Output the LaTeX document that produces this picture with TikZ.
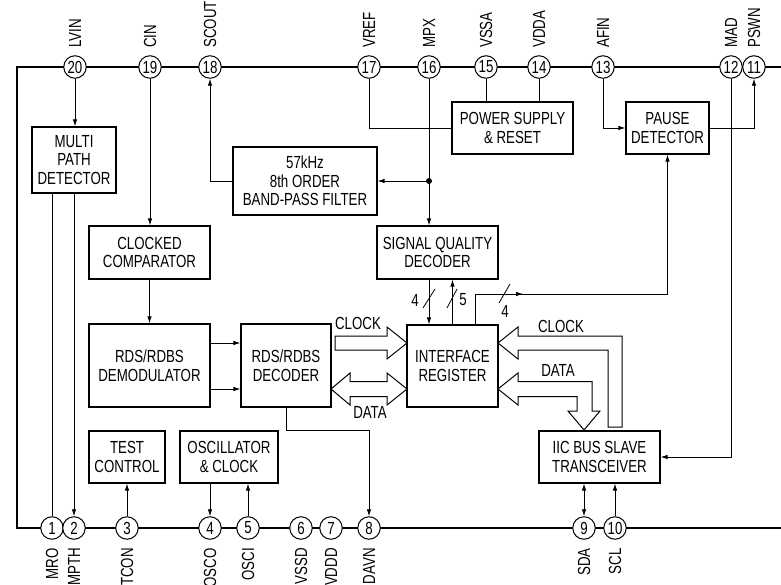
\documentclass[tikz,border=0pt]{standalone}
\usepackage{fontspec}
\setmainfont{Liberation Sans}[FakeStretch=0.76]
\usetikzlibrary{arrows.meta,calc}
\newcommand\dfont{\fontsize{17.5}{18.5}\selectfont}
\begin{document}
\begin{tikzpicture}[x=1pt,y=-1pt,
  every node/.style={font=\dfont},
  box/.style={draw, line width=1.2pt, align=center, inner sep=0pt},
  pin/.style={circle, draw, fill=white, line width=1pt, minimum size=22.5pt, inner sep=0pt},
  conn/.style={line width=0.8pt},
  arr/.style={conn, -{Latex[length=7pt,width=4.5pt]}},
  darr/.style={conn, {Latex[length=7pt,width=4.5pt]}-{Latex[length=7pt,width=4.5pt]}},
  fat/.style={draw, line width=1pt, fill=white, line join=miter},
  toplbl/.style={rotate=90, anchor=west, inner sep=0pt},
  botlbl/.style={rotate=90, anchor=east, inner sep=0pt},
  lbl/.style={inner sep=0pt}
]
\clip (0,0) rectangle (781,585);
\useasboundingbox (0,0) rectangle (781,585);

% chip outline
\draw[line width=2.4pt] (781,67) -- (17,67) -- (17,528) -- (781,528);

% boxes
\node[box, minimum width=84pt, minimum height=66pt] (mpd) at (74,160) {MULTI\\PATH\\DETECTOR};
\node[box, minimum width=144pt, minimum height=68pt] (bpf) at (305,181) {57kHz\\8th ORDER\\BAND-PASS FILTER};
\node[box, minimum width=121pt, minimum height=52pt] (psr) at (512.5,128) {POWER SUPPLY\\\& RESET};
\node[box, minimum width=83pt, minimum height=52pt] (pd) at (667.5,128) {PAUSE\\DETECTOR};
\node[box, minimum width=121pt, minimum height=53pt] (cc) at (149.5,252.5) {CLOCKED\\COMPARATOR};
\node[box, minimum width=121pt, minimum height=53pt] (sqd) at (437.5,252.5) {SIGNAL QUALITY\\DECODER};
\node[box, minimum width=121pt, minimum height=83pt] (dem) at (149.5,365.5) {RDS/RDBS\\DEMODULATOR};
\node[box, minimum width=90pt, minimum height=83pt] (dec) at (286,365.5) {RDS/RDBS\\DECODER};
\node[box, minimum width=91pt, minimum height=82pt] (ir) at (452.5,366) {INTERFACE\\REGISTER};
\node[box, minimum width=76pt, minimum height=52pt] (tc) at (127,457) {TEST\\CONTROL};
\node[box, minimum width=98pt, minimum height=52pt] (osc) at (229,457) {OSCILLATOR\\\& CLOCK};
\node[box, minimum width=121pt, minimum height=52pt] (iic) at (599.5,457) {IIC BUS SLAVE\\TRANSCEIVER};

% pins top
\node[pin] (p20) at (75,67) {20};
\node[pin] (p19) at (150,67) {19};
\node[pin] (p18) at (210,67) {18};
\node[pin] (p17) at (369,67) {17};
\node[pin] (p16) at (429,67) {16};
\node[pin] (p15) at (486,67) {15};
\node[pin] (p14) at (539,67) {14};
\node[pin] (p13) at (603,67) {13};
\node[pin] (p12) at (731,67) {12};
\node[pin] (p11) at (754,67) {11};
% pins bottom
\node[pin] (p1) at (52,528) {1};
\node[pin] (p2) at (74,528) {2};
\node[pin] (p3) at (127,528) {3};
\node[pin] (p4) at (210,528) {4};
\node[pin] (p5) at (248,528) {5};
\node[pin] (p6) at (301,528) {6};
\node[pin] (p7) at (331,528) {7};
\node[pin] (p8) at (369,528) {8};
\node[pin] (p9) at (584,528) {9};
\node[pin] (p10) at (615,528) {10};

% pin labels top
\node[toplbl] (l20) at (75,48) {LVIN};
\node[toplbl] (l19) at (150,48) {CIN};
\node[toplbl] (l18) at (210,48) {SCOUT};
\node[toplbl] (l17) at (369,48) {VREF};
\node[toplbl] (l16) at (429,48) {MPX};
\node[toplbl] (l15) at (486,48) {VSSA};
\node[toplbl] (l14) at (539,48) {VDDA};
\node[toplbl] (l13) at (603,48) {AFIN};
\node[toplbl] (l12) at (731,48) {MAD};
\node[toplbl] (l11) at (754,48) {PSWN};
% pin labels bottom
\node[botlbl] (l1) at (52,548) {MRO};
\node[botlbl] (l2) at (74,548) {MPTH};
\node[botlbl] (l3) at (127,548) {TCON};
\node[botlbl] (l4) at (210,548) {OSCO};
\node[botlbl] (l5) at (248,548) {OSCI};
\node[botlbl] (l6) at (301,548) {VSSD};
\node[botlbl] (l7) at (331,548) {VDDD};
\node[botlbl] (l8) at (369,548) {DAVN};
\node[botlbl] (l9) at (584,548) {SDA};
\node[botlbl] (l10) at (615,548) {SCL};

% connectors
\draw[arr] (p20.south) -- (p20.south |- mpd.north);
\draw[conn] (p1.north |- mpd.south) -- (p1.north);
\draw[arr] (p2.north |- mpd.south) -- (p2.north);
\draw[arr] (p19.south) -- (p19.south |- cc.north);
\draw[arr] (cc.south) -- (dem.north);
\draw[arr] (dem.east |- 0,343) -- (dec.west |- 0,343);
\draw[arr] (dem.east |- 0,389) -- (dec.west |- 0,389);
\draw[arr] (bpf.west) -| (p18.south);
\coordinate (j) at (p16 |- bpf.east);
\draw[arr] (j) -- (bpf.east);
\draw[arr] (p16.south) -- (p16.south |- sqd.north);
\fill (j) circle (3pt);
\draw[conn] (p17.south) |- (psr.west);
\draw[conn] (p15.south) -- (p15.south |- psr.north);
\draw[conn] (p14.south) -- (p14.south |- psr.north);
\draw[arr] (p13.south) |- (pd.west);
\draw[arr] (pd.east) -| (p11.south);
\draw[arr] (p12.south) |- (iic.east);
\draw[arr] ([xshift=22.5pt]ir.north) |- (pd.south |- 0,294) -- (pd.south);
\draw[arr] (505,294) -- (523,294);
\draw[arr] (sqd.south -| p16) -- (ir.north -| p16);
\draw[arr] (ir.north) -- (sqd.south -| ir.north);
\draw[arr] (dec.south) |- (p8 |- 0,430) -- (p8.north);
\draw[arr] (p3.north) -- (p3.north |- tc.south);
\draw[arr] (p4.north |- osc.south) -- (p4.north);
\draw[arr] (p5.north) -- (p5.north |- osc.south);
\draw[darr] (p9.north) -- (p9.north |- iic.south);
\draw[arr] (p10.north) -- (p10.north |- iic.south);

% bus slashes and widths
\draw[conn] (423,308) -- (435,289);
\draw[conn] (447,308) -- (457,289);
\draw[conn] (499,303) -- (510,284);
\node[lbl] (w1) at (415,300) {4};
\node[lbl] (w2) at (463,300) {5};
\node[lbl] (w3) at (505,311) {4};

% hollow bus arrows
\path[fat] (335,336) -- (387,336) -- (387,327) -- (407,343) -- (387,359) -- (387,350) -- (335,350) -- cycle;
\path[fat] (331,389) -- (350,373) -- (350,381.5) -- (387,381.5) -- (387,373) -- (407,389) -- (387,405) -- (387,396.5) -- (350,396.5) -- (350,405) -- cycle;
\path[fat] (498,343) -- (518,327) -- (518,336) -- (622,336) -- (622,427) -- (608,427) -- (608,350) -- (518,350) -- (518,359) -- cycle;
\path[fat] (498,389) -- (518,373) -- (518,381.5) -- (592,381.5) -- (592,411) -- (600,411) -- (584,430) -- (568,411) -- (577,411) -- (577,396.5) -- (518,396.5) -- (518,405) -- cycle;
\node[lbl] (c1) at (358,323) {CLOCK};
\node[lbl] (d1) at (370,412) {DATA};
\node[lbl] (c2) at (561,326) {CLOCK};
\node[lbl] (d2) at (558,370) {DATA};
\end{tikzpicture}
\end{document}
